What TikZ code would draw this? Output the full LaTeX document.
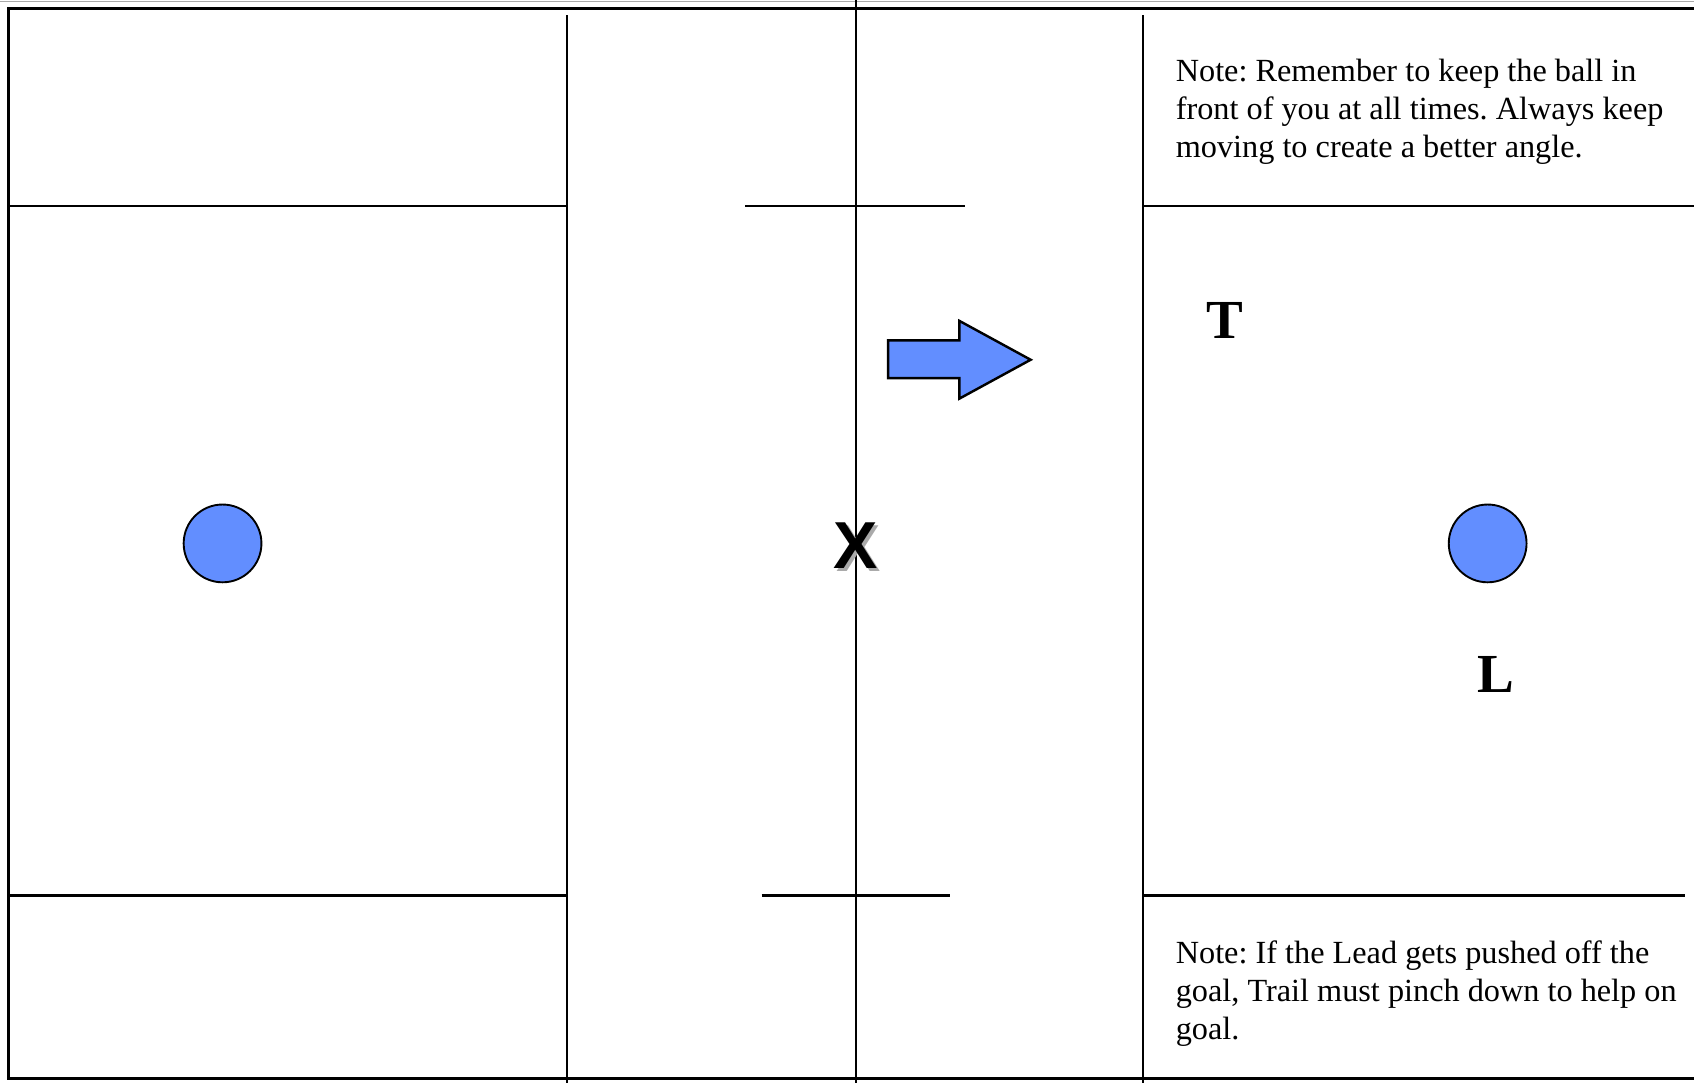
\documentclass[tikz,border=0pt]{standalone}
\usepackage{fontspec}
\setmainfont{Liberation Serif}
\newfontfamily\xfont{Liberation Sans}
\usetikzlibrary{positioning}
\definecolor{fBall}{RGB}{98,142,255}
\definecolor{fShade}{RGB}{170,170,170}
\frenchspacing

\begin{document}
\begin{tikzpicture}[
				x=0.2mm,y=-0.2mm,
				fieldline/.style={draw=black,line width=0.42mm},
				border/.style={draw=black,line width=0.6mm},
				ball/.style={circle,draw=black,line width=0.35mm,fill=fBall,minimum size=14.4mm,inner sep=0pt},
				ref/.style={font=\fontsize{29}{29}\selectfont\bfseries,inner sep=0pt},
				note/.style={anchor=north west,inner sep=0pt,align=left,
					font=\fontsize{17}{20.2}\selectfont}
				]
				\useasboundingbox (0,0) rectangle (1568,1002);

				% outer border
				\draw[fShade,line width=0.2mm] (0,1) -- (1568,1);
				\draw[border] (1568,8) -- (8,8) -- (8,998) -- (1568,998);

				% long lines of the field
				\draw[fieldline] (525,14) -- (525,1002);
				\draw[fieldline] (792,0) -- (792,1002);
				\draw[fieldline] (1058,14) -- (1058,1002);

				% restraining and wing lines
				\draw[fieldline] (8,191) -- (525,191);
				\draw[fieldline] (690,191) -- (893,191);
				\draw[fieldline] (1058,191) -- (1568,191);
				\draw[fieldline] (8,829) -- (525,829);
				\draw[fieldline] (705,829) -- (879,829);
				\draw[fieldline] (1058,829) -- (1560,829);

				% goals
				\node[ball] (goalL) at (206,503) {};
				\node[ball] (goalR) at (1377,503) {};

				% direction of play
				\draw[border,line width=0.45mm,fill=fBall,line join=miter]
					(822,315) -- (888,315) -- (888,297) -- (954,333) -- (888,369) -- (888,350) -- (822,350) -- cycle;

				% officials
				\node[inner sep=0pt,text=fShade,font=\xfont\fontsize{35}{35}\selectfont\bfseries] (xshade) at (795,508) {X};
				\node[inner sep=0pt,font=\xfont\fontsize{35}{35}\selectfont\bfseries] (x) at (792,505) {X};
				\node[ref] (trail) at (1134,297) {T};
				\node[ref] (lead) at (1385,624) {L};

				% notes
				\node[note] (noteTop) at (1088,54) {Note: Remember to keep the ball in\\front of you at all times. Always keep\\moving to create a better angle.};
				\node[note] (noteBot) at (1088,870) {Note: If the Lead gets pushed off the\\goal, Trail must pinch down to help on\\goal.};
			\end{tikzpicture}
\end{document}
